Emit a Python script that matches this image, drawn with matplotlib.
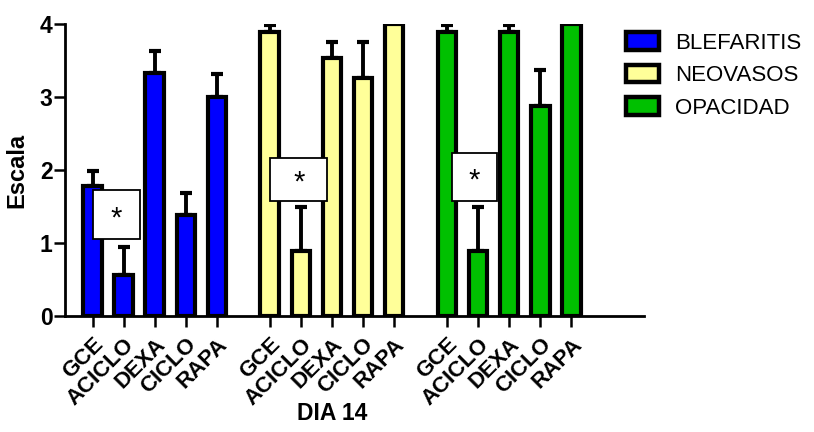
import matplotlib
matplotlib.use("Agg")
import matplotlib.pyplot as plt
from matplotlib.patches import Patch, Rectangle
import matplotlib.transforms as mtransforms
import numpy as np

plt.rcParams['font.family'] = ['Liberation Sans', 'DejaVu Sans']

categories = ["GCE", "ACICLO", "DEXA", "CICLO", "RAPA"]
series = ["BLEFARITIS", "NEOVASOS", "OPACIDAD"]
colors = ["#0000ff", "#ffff99", "#00c000"]

blefaritis = [1.78, 0.56, 3.33, 1.38, 3.00]
blefaritis_err = [0.20, 0.39, 0.30, 0.31, 0.32]
neovasos = [3.89, 0.89, 3.54, 3.26, 4.00]
neovasos_err = [0.10, 0.60, 0.22, 0.50, 0.00]
opacidad = [3.89, 0.89, 3.89, 2.87, 4.00]
opacidad_err = [0.10, 0.60, 0.10, 0.50, 0.00]

values = [blefaritis, neovasos, opacidad]
errors = [blefaritis_err, neovasos_err, opacidad_err]

# significance boxes: (series index, x-offset start, x-offset end, y bottom, y top)
sig_boxes = [(0, 0.02, 1.52, 1.06, 1.72),
             (1, 0.02, 1.85, 1.58, 2.17),
             (2, 0.16, 1.61, 1.58, 2.23)]
sig_text = "*"

group_step = 5.7
bar_width = 0.6

fig = plt.figure(figsize=(8.14, 4.32), dpi=100)
ax = fig.add_axes([65/814, 1-316/432, (644-65)/814, (316-24)/432])

positions = []
labels = []
for g, (vals, errs, col) in enumerate(zip(values, errors, colors)):
    x = g*group_step + np.arange(len(categories))
    positions.extend(x)
    labels.extend(categories)
    errs = np.array(errs)
    mask = errs > 0
    ax.errorbar(x[mask], np.array(vals)[mask],
                yerr=[np.zeros(mask.sum()), errs[mask]],
                fmt='none', ecolor='black', elinewidth=2.8, capsize=4,
                capthick=3, zorder=1)
    ax.bar(x, vals, width=bar_width, color=col, edgecolor='black',
           linewidth=3, zorder=2)

for g, x0, x1, y0, y1 in sig_boxes:
    base = g*group_step
    ax.add_patch(Rectangle((base + x0, y0), x1 - x0, y1 - y0,
                           facecolor='white', edgecolor='black',
                           linewidth=1.3, zorder=5))
    ax.text(base + (x0 + x1)/2, (y0 + y1)/2 - 0.05, sig_text, ha='center',
            va='center', fontsize=21, zorder=6)

ax.set_xlim(-0.89, 17.74)
ax.set_ylim(0, 4)
ax.set_yticks([0, 1, 2, 3, 4])
ax.set_yticklabels(["0", "1", "2", "3", "4"], fontsize=16.5, fontweight='bold')
ax.set_xticks(positions)
ax.set_xticklabels(labels, rotation=45, ha='right', va='top',
                   rotation_mode='anchor', fontsize=16, fontweight='bold')
ax.tick_params(axis='both', length=8, width=1.8, direction='out')
ax.tick_params(axis='x', pad=5)
ax.tick_params(axis='y', pad=1)
for s in ['top', 'right']:
    ax.spines[s].set_visible(False)
for s in ['left', 'bottom']:
    ax.spines[s].set_linewidth(2)

ax.set_ylabel("Escala", fontsize=17, fontweight='bold', labelpad=8)

trans = mtransforms.blended_transform_factory(ax.transData, fig.transFigure)
mid = (positions[0] + positions[-1]) / 2
ax.text(mid, 1-413/432, "DIA 14", transform=trans, ha='center', va='center',
        fontsize=16.5, fontweight='bold')

handles = [Patch(facecolor=c, edgecolor='black', linewidth=3.2, label=s)
           for c, s in zip(colors, series)]
fig.legend(handles=handles, loc='upper left',
           bbox_to_anchor=(626/814, 1-32/432), frameon=False,
           fontsize=16, handlelength=1.5, handleheight=0.85,
           handletextpad=0.7, labelspacing=0.5, borderpad=0,
           borderaxespad=0)

fig.savefig("out.png", dpi=100)
